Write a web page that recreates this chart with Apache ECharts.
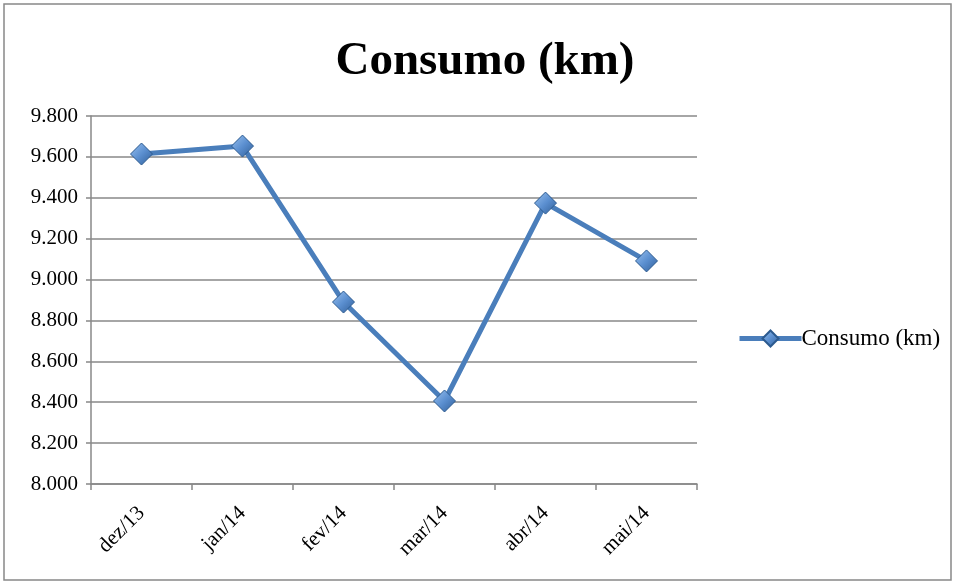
<!DOCTYPE html>
<html>
<head>
<meta charset="utf-8">
<script src="https://cdn.jsdelivr.net/npm/echarts@6/dist/echarts.min.js"></script>
<style>
html,body{margin:0;padding:0;background:#fff;}
#pic0{width:956px;height:585px;}
</style>
</head>
<body>
<div id="pic0"></div>
<script>
// consumo mensal em km
var meses = ['dez/13', 'jan/14', 'fev/14', 'mar/14', 'abr/14', 'mai/14'];
var consumo = [9614, 9653, 8890, 8406, 9374, 9091];

var myChart = echarts.init(document.getElementById('pic0'));

function fmt(v) {
    var s = String(v);
    return s.slice(0, s.length - 3) + '.' + s.slice(s.length - 3);
}

var serif = '"Liberation Serif", "Times New Roman", serif';

var option = {
    backgroundColor: '#fff',
    title: {
        text: 'Consumo (km)',
        left: 480,
        top: 33,
        textAlign: 'center',
        textStyle: {fontFamily: serif, fontSize: 47, fontWeight: 'bold', color: '#000'}
    },
    legend: {
        data: ['Consumo (km)'],
        left: 732,
        top: 322,
        itemWidth: 62,
        itemHeight: 20,
        itemGap: 0,
        lineStyle: {width: 5},
        textStyle: {fontFamily: serif, fontSize: 23, color: '#000', padding: [0, 0, 0, -5]}
    },
    grid: {left: 91, right: 259, top: 116, bottom: 101},
    xAxis: {
        type: 'category',
        data: meses,
        boundaryGap: true,
        axisLine: {lineStyle: {color: '#888', width: 1.5}},
        axisTick: {show: true, length: 6, lineStyle: {color: '#888', width: 1.5}},
        axisLabel: {rotate: 45, margin: 26, fontFamily: serif, fontSize: 21, color: '#000'}
    },
    yAxis: {
        type: 'value',
        min: 8000,
        max: 9800,
        interval: 200,
        axisLine: {show: true, lineStyle: {color: '#888', width: 1.5}},
        axisTick: {show: true, length: 5, lineStyle: {color: '#888', width: 1.5}},
        splitLine: {lineStyle: {color: '#888', width: 1.5}},
        axisLabel: {margin: 13, fontFamily: serif, fontSize: 21, color: '#000', formatter: fmt}
    },
    series: [
        {
            name: 'Consumo (km)',
            type: 'line',
            data: consumo,
            symbol: 'diamond',
            symbolSize: 22,
            lineStyle: {color: '#4a7ebb', width: 5},
            itemStyle: {
                color: new echarts.graphic.LinearGradient(0, 0, 1, 1, [
                    {offset: 0, color: '#9cc3f0'},
                    {offset: 0.5, color: '#5b8fd0'},
                    {offset: 1, color: '#2f5d96'}
                ]),
                borderColor: '#2c5a8f',
                borderWidth: 1
            },
            emphasis: {disabled: true}
        }
    ],
    graphic: [
        {
            type: 'rect',
            shape: {x: 4, y: 4, width: 947, height: 576},
            style: {fill: 'none', stroke: '#888', lineWidth: 1.5},
            silent: true
        }
    ]
};

myChart.setOption(option);
</script>
</body>
</html>
